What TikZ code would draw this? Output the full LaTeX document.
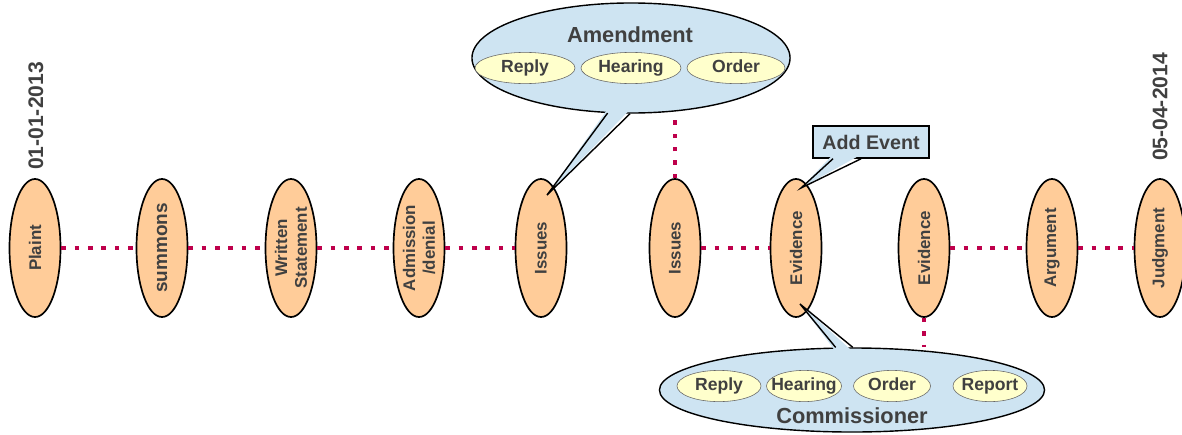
\documentclass[tikz,border=0pt]{standalone}
\usepackage{fontspec}
\setmainfont{Liberation Sans}
\usetikzlibrary{shapes}
\definecolor{peach}{RGB}{255,204,153}
\definecolor{bubbleblue}{RGB}{206,228,242}
\definecolor{subyellow}{RGB}{255,255,204}
\definecolor{txtgray}{RGB}{64,64,64}
\definecolor{dotred}{RGB}{190,0,75}
\tikzset{
    evnode/.style = {ellipse, line width=1.2pt, draw=black, fill=peach, rotate=90, align=center, inner sep=0pt, minimum width=3.45cm, minimum height=1.275cm, font=\bfseries\fontsize{12}{14}\selectfont, text=txtgray},
    datenode/.style = {rotate=90, inner sep=0pt, font=\bfseries\fontsize{15}{18}\selectfont, text=txtgray},
    subnode/.style = {ellipse, thin, draw=gray!80!black, fill=subyellow, inner xsep=-6pt, inner ysep=0pt, text height=9.2pt, text depth=2.6pt, minimum height=0.78cm, font=\bfseries\fontsize{12.5}{15}\selectfont, text=txtgray},
    bubble/.style = {ellipse, line width=1pt, draw=black, fill=bubbleblue, inner sep=0pt},
    notebox/.style = {rectangle, line width=1pt, draw=black, fill=bubbleblue, inner sep=0pt, font=\bfseries\fontsize{14}{17}\selectfont, text=txtgray},
    tailfill/.style = {bubbleblue},
    tailline/.style = {-, line width=1pt, black, line join=miter},
    titletext/.style = {inner sep=0pt, font=\bfseries\fontsize{15.5}{18}\selectfont, text=txtgray},
    edged/.style = {-, line width=3.2pt, dotred, dash pattern=on 3.2pt off 6.3pt}
}
\begin{document}
\begin{tikzpicture}[x=0.025cm, y=-0.025cm]
\useasboundingbox (0, 0) rectangle (1182, 434);
%
\node[evnode] at (35, 248) (plaint) {Plaint};
\node[evnode, font=\bfseries\fontsize{13.5}{16}\selectfont] at (162, 248) (summons) {summons};
\node[evnode] at (291, 248) (written) {Written\\Statement};
\node[evnode] at (419, 248) (admission) {Admission\\/denial};
\node[evnode] at (541, 248) (issuesA) {Issues};
\node[evnode] at (675, 248) (issuesB) {Issues};
\node[evnode] at (796, 248) (evidA) {Evidence};
\node[evnode] at (924, 248) (evidB) {Evidence};
\node[evnode] at (1052, 248) (argument) {Argument};
\node[evnode] at (1160, 248) (judgment) {Judgment};
%
\node[datenode] at (36, 116) (start) {01-01-2013};
\node[datenode] at (1160, 107) (finish) {05-04-2014};
%
\draw[edged] (plaint) -- (summons);
\draw[edged] (summons) -- (written);
\draw[edged] (written) -- (admission);
\draw[edged] (admission) -- (issuesA);
\draw[edged] (issuesB) -- (evidA);
\draw[edged] (evidB) -- (argument);
\draw[edged] (argument) -- (judgment);
%
\coordinate (tipAm) at (547, 195);
\coordinate (tipAdd) at (801, 188);
\coordinate (tipCom) at (800, 304);
%
\node[bubble, minimum width=7.95cm, minimum height=2.75cm] at (631, 58) (amend) {};
\fill[tailfill] ([yshift=3pt]amend.247) -- (tipAm) -- ([yshift=3pt]amend.269) -- cycle;
\draw[tailline] (amend.247) -- (tipAm) -- (amend.269);
%
\node[bubble, minimum width=9.625cm, minimum height=2.1cm] at (852, 390) (comm) {};
\fill[tailfill] ([yshift=-3pt]comm.111) -- (tipCom) -- ([yshift=-3pt]comm.89) -- cycle;
\draw[tailline] (comm.111) -- (tipCom) -- (comm.89);
%
\node[notebox, minimum width=2.9cm, minimum height=0.8cm] at (871, 142) (addev) {Add Event};
\fill[tailfill] ([xshift=-27pt, yshift=3pt]addev.south) -- (tipAdd) -- ([xshift=-7pt, yshift=3pt]addev.south) -- cycle;
\draw[tailline] ([xshift=-27pt]addev.south) -- (tipAdd) -- ([xshift=-7pt]addev.south);
%
\draw[edged] (issuesB.east) -- (issuesB.east |- amend.south);
\draw[edged] (evidB.west) -- (evidB.west |- comm.north);
%
\node[titletext] at (630, 35) (amtitle) {Amendment};
\node[subnode, minimum width=2.5cm] at (525, 68) (amReply) {Reply};
\node[subnode, minimum width=2.5cm] at (631, 68) (amHearing) {Hearing};
\node[subnode, minimum width=2.45cm] at (736, 68) (amOrder) {Order};
%
\node[titletext] at (852, 416) (comtitle) {Commissioner};
\node[subnode, minimum width=2.1cm] at (719, 386) (comReply) {Reply};
\node[subnode, minimum width=1.875cm] at (804, 386) (comHearing) {Hearing};
\node[subnode, minimum width=1.925cm] at (892, 386) (comOrder) {Order};
\node[subnode, minimum width=1.85cm] at (990, 386) (comReport) {Report};
\end{tikzpicture}
\end{document}
